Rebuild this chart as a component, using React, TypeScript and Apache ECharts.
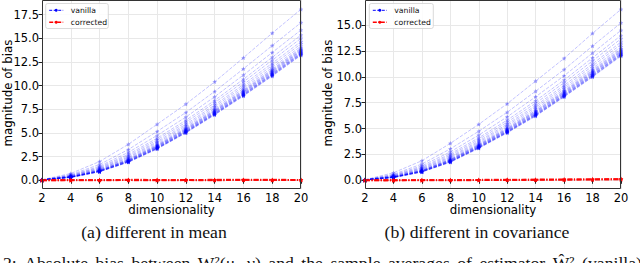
import React, { useEffect, useRef } from "react";
import * as echarts from "echarts";

const dims = [2, 4, 6, 8, 10, 12, 14, 16, 18, 20];
const xTicks = [2, 4, 6, 8, 10, 12, 14, 16, 18, 20];

// (a) different in mean — vanilla estimator, one curve per configuration
const meanVanilla: number[][] = [
  [0.06, 0.72, 1.98, 3.8, 5.92, 8.05, 10.4, 12.95, 15.55, 18.07],
  [0.05, 0.6, 1.67, 3.25, 5.16, 7.17, 9.39, 11.78, 14.23, 16.66],
  [0.05, 0.53, 1.49, 2.95, 4.74, 6.68, 8.83, 11.13, 13.5, 15.88],
  [0.04, 0.49, 1.38, 2.74, 4.45, 6.34, 8.44, 10.68, 13.0, 15.34],
  [0.04, 0.46, 1.3, 2.6, 4.27, 6.13, 8.2, 10.4, 12.68, 15.0],
  [0.04, 0.43, 1.22, 2.47, 4.09, 5.92, 7.95, 10.12, 12.37, 14.66],
  [0.04, 0.41, 1.17, 2.38, 3.96, 5.76, 7.78, 9.91, 12.14, 14.42],
  [0.04, 0.38, 1.12, 2.28, 3.82, 5.61, 7.6, 9.71, 11.91, 14.17],
  [0.03, 0.37, 1.07, 2.2, 3.72, 5.49, 7.46, 9.55, 11.73, 13.98],
  [0.03, 0.36, 1.05, 2.17, 3.67, 5.43, 7.39, 9.47, 11.64, 13.88],
  [0.03, 0.35, 1.03, 2.13, 3.61, 5.37, 7.32, 9.39, 11.55, 13.78],
  [0.03, 0.34, 1.01, 2.1, 3.58, 5.32, 7.27, 9.33, 11.48, 13.71],
  [0.03, 0.34, 1.0, 2.07, 3.54, 5.27, 7.22, 9.27, 11.41, 13.64],
  [0.03, 0.33, 0.98, 2.04, 3.5, 5.23, 7.16, 9.2, 11.34, 13.57],
  [0.03, 0.33, 0.97, 2.01, 3.46, 5.18, 7.11, 9.14, 11.27, 13.49],
  [0.03, 0.32, 0.95, 2.0, 3.43, 5.15, 7.08, 9.1, 11.23, 13.44],
  [0.03, 0.32, 0.94, 1.98, 3.4, 5.12, 7.04, 9.06, 11.18, 13.39],
  [0.03, 0.31, 0.93, 1.96, 3.38, 5.09, 7.01, 9.02, 11.14, 13.35],
  [0.03, 0.31, 0.92, 1.94, 3.35, 5.06, 6.97, 8.98, 11.09, 13.3],
  [0.03, 0.3, 0.91, 1.92, 3.33, 5.03, 6.94, 8.94, 11.05, 13.25],
  [0.03, 0.3, 0.9, 1.9, 3.3, 5.0, 6.9, 8.9, 11.0, 13.2],
];
const meanCorrected: number[][] = [
  [0.0, 0.01, 0.02, 0.02, 0.03, 0.02, 0.03, 0.04, 0.04, 0.03],
  [-0.01, -0.02, 0.0, 0.01, -0.01, 0.01, 0.0, 0.02, 0.01, 0.02],
  [0.01, 0.05, 0.03, 0.06, 0.05, 0.04, 0.06, 0.07, 0.06, 0.05],
];

// (b) different in covariance
const covVanilla: number[][] = [
  [0.06, 0.73, 1.89, 3.57, 5.41, 7.4, 9.59, 11.78, 14.2, 16.52],
  [0.05, 0.59, 1.57, 3.04, 4.74, 6.58, 8.61, 10.7, 12.98, 15.21],
  [0.05, 0.52, 1.4, 2.75, 4.37, 6.13, 8.07, 10.1, 12.3, 14.49],
  [0.04, 0.47, 1.28, 2.55, 4.11, 5.82, 7.69, 9.69, 11.84, 13.99],
  [0.04, 0.43, 1.2, 2.42, 3.95, 5.62, 7.45, 9.43, 11.54, 13.67],
  [0.04, 0.4, 1.13, 2.29, 3.79, 5.43, 7.22, 9.17, 11.25, 13.36],
  [0.04, 0.38, 1.07, 2.2, 3.67, 5.29, 7.05, 8.98, 11.04, 13.13],
  [0.04, 0.35, 1.02, 2.11, 3.55, 5.14, 6.88, 8.8, 10.82, 12.9],
  [0.03, 0.34, 0.97, 2.03, 3.46, 5.03, 6.74, 8.65, 10.66, 12.72],
  [0.03, 0.33, 0.95, 2.0, 3.42, 4.98, 6.68, 8.57, 10.57, 12.63],
  [0.03, 0.32, 0.93, 1.96, 3.37, 4.92, 6.61, 8.5, 10.49, 12.54],
  [0.03, 0.31, 0.91, 1.93, 3.33, 4.88, 6.56, 8.44, 10.42, 12.47],
  [0.03, 0.3, 0.9, 1.91, 3.3, 4.83, 6.51, 8.39, 10.36, 12.41],
  [0.03, 0.3, 0.88, 1.88, 3.26, 4.79, 6.45, 8.33, 10.3, 12.34],
  [0.03, 0.29, 0.87, 1.85, 3.23, 4.75, 6.4, 8.27, 10.23, 12.27],
  [0.03, 0.28, 0.85, 1.83, 3.21, 4.72, 6.37, 8.24, 10.19, 12.23],
  [0.03, 0.28, 0.84, 1.81, 3.18, 4.69, 6.34, 8.2, 10.15, 12.18],
  [0.03, 0.27, 0.83, 1.8, 3.16, 4.66, 6.3, 8.16, 10.11, 12.14],
  [0.03, 0.27, 0.82, 1.78, 3.14, 4.64, 6.27, 8.12, 10.06, 12.09],
  [0.03, 0.27, 0.81, 1.76, 3.11, 4.61, 6.23, 8.09, 10.02, 12.05],
  [0.03, 0.26, 0.8, 1.74, 3.09, 4.58, 6.2, 8.05, 9.98, 12.0],
];
const covCorrected: number[][] = [
  [0.0, 0.01, 0.01, 0.02, 0.02, 0.03, 0.05, 0.06, 0.08, 0.1],
  [-0.01, -0.02, -0.01, 0.0, 0.01, 0.02, 0.03, 0.05, 0.06, 0.09],
  [0.01, 0.02, 0.03, 0.04, 0.05, 0.07, 0.08, 0.1, 0.12, 0.14],
];

const yTicksLeft = [0, 2.5, 5, 7.5, 10, 12.5, 15, 17.5];
const yTicksRight = [0, 2.5, 5, 7.5, 10, 12.5, 15];

const captions = ["(a) different in mean", "(b) different in covariance"];
const footText =
  "2: Absolute bias between W\u00b2(\u03bc, \u03bd) and the sample averages of estimator \u0174\u00b2 (vanilla)";

const STAR =
  "path://M0,-10L2.9,-4L9.5,-3.1L4.8,1.5L5.9,8.1L0,5L-5.9,8.1L-4.8,1.5L-9.5,-3.1L-2.9,-4Z";
const SANS = "DejaVu Sans";
const SERIF = "Liberation Serif";

export default function App() {
  const ref = useRef<HTMLDivElement>(null);
  useEffect(() => {
    if (!ref.current) return;
    const chart = echarts.init(ref.current, undefined, { renderer: "svg" });

    const panels = [
      { left: 42, width: 259, yMin: -0.92, yMax: 19.05, tTop: 14.7, tH: 165.6, tMax: 17.5, ticks: yTicksLeft, van: meanVanilla, cor: meanCorrected },
      { left: 365, width: 256, yMin: -0.84, yMax: 17.42, tTop: 25, tH: 155.3, tMax: 15, ticks: yTicksRight, van: covVanilla, cor: covCorrected },
    ];

    const grid: any[] = [];
    const xAxis: any[] = [];
    const yAxis: any[] = [];
    const series: any[] = [];
    const graphic: any[] = [];

    panels.forEach((p, i) => {
      const gData = i * 2;
      const gTick = i * 2 + 1;
      grid.push({ left: p.left, top: 0, width: p.width, height: 189 });
      grid.push({ left: p.left, top: p.tTop, width: p.width, height: p.tH });
      xAxis.push({
        type: "value", gridIndex: gData, min: xTicks[0], max: xTicks[xTicks.length - 1], interval: 2,
        axisLine: { show: false },
        axisTick: { show: true, length: 3.5, lineStyle: { color: "#222" } },
        axisLabel: { color: "#000", fontFamily: SANS, fontSize: 11.5, margin: 2.5 },
        splitLine: { show: true, lineStyle: { color: "#e8e8e8", width: 1 } },
      });
      xAxis.push({ type: "value", gridIndex: gTick, min: 2, max: 20, show: false });
      yAxis.push({ type: "value", gridIndex: gData, min: p.yMin, max: p.yMax, show: false });
      yAxis.push({
        type: "value", gridIndex: gTick, min: 0, max: p.tMax, interval: 2.5,
        axisLine: { show: false },
        axisTick: { show: true, length: 3.5, lineStyle: { color: "#222" } },
        axisLabel: { color: "#000", fontFamily: SANS, fontSize: 11.5, margin: 3, formatter: (v: number) => v.toFixed(1) },
        splitLine: { show: true, lineStyle: { color: "#e8e8e8", width: 1 } },
      });
      p.van.forEach((row) => {
        series.push({
          type: "line", xAxisIndex: gData, yAxisIndex: gData,
          data: dims.map((d, k) => [d, row[k]]),
          symbol: STAR, symbolSize: 4.5, showSymbol: true,
          itemStyle: { color: "#0000ff", opacity: 0.35 },
          lineStyle: { color: "#0000ff", width: 1, type: [3.5, 1.5], opacity: 0.24 },
          z: 3, silent: true,
        });
      });
      p.cor.forEach((row) => {
        series.push({
          type: "line", xAxisIndex: gData, yAxisIndex: gData,
          data: dims.map((d, k) => [d, row[k]]),
          symbol: STAR, symbolSize: 4.5, showSymbol: true,
          itemStyle: { color: "#ff0000", opacity: 0.8 },
          lineStyle: { color: "#ff0000", width: 1.8, type: [5, 1.5, 1.2, 1.5], opacity: 0.75 },
          z: 4, silent: true,
        });
      });
      // frame
      graphic.push({
        type: "rect", z: 100,
        shape: { x: p.left + 0.5, y: 0.5, width: p.width - 1, height: 188 },
        style: { fill: "none", stroke: "#333", lineWidth: 1 },
      });
      // axis titles
      graphic.push({
        type: "text", z: 100, x: p.left + p.width / 2, y: 210,
        style: { text: "dimensionality", fontFamily: SANS, fontSize: 11.8, fill: "#000", align: "center", verticalAlign: "middle" },
      });
      graphic.push({
        type: "text", z: 100, x: i === 0 ? 8 : 328, y: 93, rotation: Math.PI / 2,
        style: { text: "magnitude of bias", fontFamily: SANS, fontSize: 11.8, fill: "#000", align: "center", verticalAlign: "middle" },
      });
      // legend
      const lx = i === 0 ? 45.7 : 369.3;
      const lw = i === 0 ? 62.6 : 64;
      graphic.push({
        type: "rect", z: 101,
        shape: { x: lx, y: 3.5, width: lw, height: 25, r: 2 },
        style: { fill: "rgba(255,255,255,0.85)", stroke: "#d0d0d0", lineWidth: 0.8 },
      });
      const sx = lx + 3.5;
      const tx = lx + 25;
      graphic.push({
        type: "line", z: 102, shape: { x1: sx, y1: 10.3, x2: sx + 14, y2: 10.3 },
        style: { stroke: "#0000ff", lineWidth: 1, lineDash: [3, 1.5] },
      });
      graphic.push({ type: "circle", z: 102, shape: { cx: sx + 7, cy: 10.3, r: 1.5 }, style: { fill: "#0000ff" } });
      graphic.push({
        type: "text", z: 102, x: tx, y: 10.3,
        style: { text: "vanilla", fontFamily: SANS, fontSize: 7.7, fill: "#111", verticalAlign: "middle" },
      });
      graphic.push({
        type: "line", z: 102, shape: { x1: sx, y1: 22.3, x2: sx + 14, y2: 22.3 },
        style: { stroke: "#ff0000", lineWidth: 1.5, lineDash: [4, 1.5, 1, 1.5] },
      });
      graphic.push({ type: "circle", z: 102, shape: { cx: sx + 7, cy: 22.3, r: 1.5 }, style: { fill: "#ff0000" } });
      graphic.push({
        type: "text", z: 102, x: tx, y: 22.3,
        style: { text: "corrected", fontFamily: SANS, fontSize: 7.7, fill: "#111", verticalAlign: "middle" },
      });
      // caption
      graphic.push({
        type: "text", z: 100, x: i === 0 ? 154 : 477, y: 232,
        style: { text: captions[i], fontFamily: SERIF, fontSize: 17.7, fill: "#111", align: "center", verticalAlign: "middle" },
      });
    });

    // justified footer line (cut by the bottom edge, as in the reference)
    const words = footText.split(" ");
    const ctx = document.createElement("canvas").getContext("2d");
    const fontSize = 17.7;
    let widths = words.map((w) => w.length * fontSize * 0.45);
    if (ctx) {
      ctx.font = `${fontSize}px "${SERIF}"`;
      widths = words.map((w) => ctx.measureText(w).width);
    }
    const startX = 3;
    const endX = 642;
    const total = widths.reduce((a, b) => a + b, 0);
    const gap = (endX - startX - total) / (words.length - 1);
    let cx = startX;
    words.forEach((w, k) => {
      graphic.push({
        type: "text", z: 100, x: cx, y: 262.5,
        style: { text: w, fontFamily: SERIF, fontSize, fill: "#111", align: "left", verticalAlign: "middle" },
      });
      cx += widths[k] + gap;
    });

    chart.setOption({
      animation: false,
      backgroundColor: "#ffffff",
      grid, xAxis, yAxis, series, graphic,
    });
    return () => chart.dispose();
  }, []);

  return (
    <div
      ref={ref}
      style={{ position: "fixed", left: 0, top: 0, width: 640, height: 263, background: "#fff" }}
    />
  );
}
